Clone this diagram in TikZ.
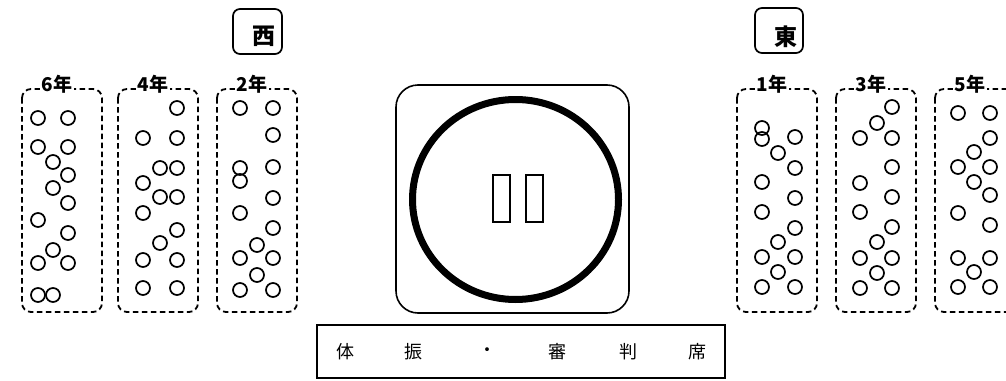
\documentclass[tikz,border=0pt]{standalone}
\usepackage{fontspec}
\usepackage{tikz}
\newfontfamily\jp{Noto Sans CJK JP}

\begin{document}
\begin{tikzpicture}[x=1pt, y=-1pt,
		gradebox/.style={dash pattern=on 5.5pt off 3.5pt, line width=1.8pt, rounded corners=9pt},
		gradelabel/.style={fill=white, inner sep=1.5pt, font=\jp\bfseries\fontsize{19}{19}\selectfont},
		seat/.style={line width=1.7pt},
		sidebox/.style={line width=1.7pt, rounded corners=7pt},
		sidechar/.style={inner sep=0pt, font=\jp\bfseries\fontsize{23}{23}\selectfont},
		judgechar/.style={inner sep=0pt, font=\jp\fontsize{18}{18}\selectfont}]
		\useasboundingbox (0,0) rectangle (1006,380);
		% West and east signs
		\draw[sidebox] (233,9) rectangle (282,54);
		\node[sidechar] (west) at (264,36) {西};
		\draw[sidebox] (755,8) rectangle (803,53);
		\node[sidechar] (east) at (786,37) {東};
		% Grade boxes
		\foreach \x/\n/\g in {22/six/6, 118/four/4, 217/two/2, 737/one/1, 836/three/3, 935/five/5} {
			\draw[gradebox] (\x,89) rectangle ++(80,223);
			\node[gradelabel] (\n) at (\x+35,84) {\g{}年};
		}
		% Seats
		\foreach \p in {(38,118),(68,118),(38,147),(68,147),(53,162),(68,175),(53,188),(68,203),
				(38,220),(68,233),(53,250),(38,263),(68,263),(38,295),(53,295)}
			\draw[seat] \p circle (7);
		\foreach \p in {(177,108),(143,138),(177,138),(160,168),(177,168),(143,183),(160,197),(177,197),
				(143,213),(177,230),(160,243),(143,260),(177,260),(143,288),(177,288)}
			\draw[seat] \p circle (7);
		\foreach \p in {(240,108),(273,108),(273,135),(240,168),(240,181),(273,167),(273,198),(240,213),
				(273,228),(257,245),(240,258),(273,258),(257,275),(240,290),(273,290)}
			\draw[seat] \p circle (7);
		\foreach \p in {(762,128),(762,139),(795,137),(778,153),(795,168),(762,182),(795,198),(762,212),
				(795,228),(778,242),(762,257),(795,257),(778,272),(762,287),(795,287)}
			\draw[seat] \p circle (7);
		\foreach \p in {(892,107),(877,123),(860,138),(892,138),(892,167),(860,183),(892,197),(860,212),
				(892,227),(877,242),(860,258),(892,258),(877,273),(860,288),(892,288)}
			\draw[seat] \p circle (7);
		\foreach \p in {(958,113),(990,113),(990,138),(974,152),(958,167),(990,167),(974,182),(990,195),
				(958,213),(990,225),(958,258),(990,258),(974,272),(958,287),(990,287)}
			\draw[seat] \p circle (7);
		% Ring
		\draw[line width=1.6pt, rounded corners=22pt] (396,85) rectangle (629,313);
		\draw[line width=7pt] (515.5,199.5) ellipse (103 and 100);
		\draw[line width=1.5pt] (493,175) rectangle (510,222);
		\draw[line width=1.5pt] (526,175) rectangle (543,222);
		% Judges' seats
		\draw[line width=1.4pt] (317,325) rectangle (725,378);
		\foreach \x/\n/\c in {345/a/体, 413/b/振, 487/c/・, 557/d/審, 628/e/判, 697/f/席}
			\node[judgechar] (judge\n) at (\x,352) {\c};
	\end{tikzpicture}
\end{document}
